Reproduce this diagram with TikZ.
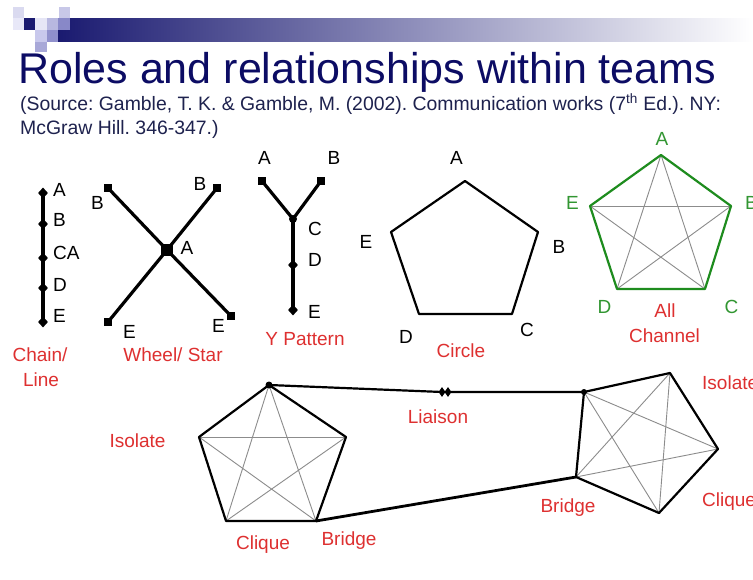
\documentclass[tikz,border=0pt]{standalone}
\usepackage{fontspec}
\setmainfont{Liberation Sans}
\usetikzlibrary{shapes.geometric}
\frenchspacing
\definecolor{titleblue}{RGB}{12,12,100}
\definecolor{subblue}{RGB}{30,34,78}
\definecolor{lblred}{RGB}{222,48,48}
\definecolor{edgegreen}{RGB}{30,140,30}
\definecolor{lblgreen}{RGB}{50,150,50}
\definecolor{diaggray}{RGB}{140,140,140}
\definecolor{navy}{RGB}{26,26,112}
\definecolor{barmid}{RGB}{140,140,185}
\definecolor{sqa}{RGB}{218,218,240}
\definecolor{sqb}{RGB}{232,232,248}
\definecolor{sqc}{RGB}{200,200,232}
\definecolor{sqd}{RGB}{230,230,246}
\definecolor{sqe}{RGB}{184,184,224}
\definecolor{sqf}{RGB}{136,136,200}
\definecolor{sqg}{RGB}{200,200,236}
\definecolor{sqh}{RGB}{144,144,204}
\definecolor{sqi}{RGB}{168,168,216}
\tikzset{
  lbl/.style={font=\fontsize{19}{23}\selectfont, inner sep=0pt, anchor=base},
  rlbl/.style={lbl, text=lblred},
  glbl/.style={lbl, text=lblgreen},
  dmark/.style={diamond, fill=black, inner sep=0pt, minimum width=10pt, minimum height=11pt},
  smark/.style={rectangle, fill=black, inner sep=0pt, minimum size=8pt},
  dotmark/.style={circle, fill=black, inner sep=0pt, minimum size=6pt},
  vtx/.style={inner sep=0pt, minimum size=0pt},
  thickline/.style={line width=3.2pt},
  poly/.style={line width=2.2pt, line join=round},
  diag/.style={line width=0.9pt, draw=diaggray},
}
\begin{document}
\begin{tikzpicture}[x=1pt,y=-1pt]
\useasboundingbox (0,0) rectangle (753,580);
\fill[white] (0,0) rectangle (753,580);
% header bar and squares
\shade[left color=navy, right color=white, middle color=barmid] (58,19) rectangle (753,42);
\fill[sqa] (13,7) rectangle (24,18);
\fill[sqb] (13,18) rectangle (24,30);
\fill[sqc] (59,7) rectangle (70,18);
\fill[navy] (24,18) rectangle (35,30);
\fill[sqd] (35,18) rectangle (47,30);
\fill[sqe] (47,18) rectangle (58,30);
\fill[sqf] (58,18) rectangle (70,30);
\fill[sqg] (35,30) rectangle (47,42);
\fill[sqh] (47,30) rectangle (58,42);
\fill[sqi] (35,42) rectangle (47,52);
% title
\node[anchor=base west, inner sep=0pt, text=titleblue, font=\fontsize{43}{49}\selectfont] (title) at (18,84) {Roles and relationships within teams};
\node[anchor=base west, inner sep=0pt, text=subblue, font=\fontsize{19.4}{23}\selectfont] (src1) at (20,111) {(Source: Gamble, T. K. \& Gamble, M. (2002). Communication works (7\textsuperscript{th} Ed.). NY:};
\node[anchor=base west, inner sep=0pt, text=subblue, font=\fontsize{19.4}{23}\selectfont] (src2) at (20,135) {McGraw Hill. 346-347.)};

% Chain
\node[dmark] (ca) at (43,193) {};
\node[dmark] (cb) at (43,224) {};
\node[dmark] (cc) at (43,258) {};
\node[dmark] (cd) at (43,288) {};
\node[dmark] (ce) at (43,322) {};
\draw[thickline] (ca.center) -- (ce.center);
\node[lbl, anchor=base west] (lca) at (53,197) {A};
\node[lbl, anchor=base west] (lcb) at (53,227) {B};
\node[lbl, anchor=base west] (lcc) at (53,260) {CA};
\node[lbl, anchor=base west] (lcd) at (53,292) {D};
\node[lbl, anchor=base west] (lce) at (53,323) {E};
\node[rlbl] (chain1) at (40,362) {Chain/};
\node[rlbl] (chain2) at (41,386) {Line};

% Wheel
\node[smark, minimum size=12pt] (wa) at (167,250) {};
\node[smark] (wb1) at (108,188) {};
\node[smark] (wb2) at (217,188) {};
\node[smark] (we1) at (108,322) {};
\node[smark] (we2) at (231,316) {};
\draw[thickline] (wb1.center) -- (wa.center) -- (we2.center);
\draw[thickline] (wb2.center) -- (wa.center) -- (we1.center);
\node[lbl] (lwb1) at (97.5,210) {B};
\node[lbl] (lwb2) at (200,191) {B};
\node[lbl] (lwa) at (187,255) {A};
\node[lbl] (lwe1) at (129.5,338) {E};
\node[lbl] (lwe2) at (218.5,333) {E};
\node[rlbl] (wheel) at (173,362) {Wheel/ Star};

% Y pattern
\node[smark] (ya) at (262,181) {};
\node[smark] (yb) at (321,181) {};
\node[dotmark, minimum size=8pt] (yc) at (293,219) {};
\node[dmark] (yd) at (293,265) {};
\node[dmark] (ye) at (293,310) {};
\draw[thickline, line join=round] (ya.center) -- (yc.center) -- (yb.center);
\draw[thickline] (yc.center) -- (ye.center);
\node[lbl] (lya) at (264.5,165) {A};
\node[lbl] (lyb) at (334,165) {B};
\node[lbl] (lyc) at (315,236) {C};
\node[lbl] (lyd) at (315,267) {D};
\node[lbl] (lye) at (314.5,319) {E};
\node[rlbl] (ypat) at (305,345) {Y Pattern};

% Circle
\node[vtx] (pa) at (465,181) {};
\node[vtx] (pb) at (538,232) {};
\node[vtx] (pc) at (512,314) {};
\node[vtx] (pd) at (419,314) {};
\node[vtx] (pe) at (391,232) {};
\draw[poly] (pa.center) -- (pb.center) -- (pc.center) -- (pd.center) -- (pe.center) -- cycle;
\node[lbl] (lpa) at (456.5,165) {A};
\node[lbl] (lpb) at (559,254) {B};
\node[lbl] (lpc) at (527,337) {C};
\node[lbl] (lpd) at (406,344) {D};
\node[lbl] (lpe) at (366,249) {E};
\node[rlbl] (circ) at (461,357) {Circle};

% All channel
\node[vtx] (ga) at (661,155) {};
\node[vtx] (gb) at (731,206) {};
\node[vtx] (gc) at (705,289) {};
\node[vtx] (gd) at (617,289) {};
\node[vtx] (ge) at (590,206) {};
\draw[diag] (ga.center) -- (gc.center);
\draw[diag] (ga.center) -- (gd.center);
\draw[diag] (gb.center) -- (gd.center);
\draw[diag] (gb.center) -- (ge.center);
\draw[diag] (gc.center) -- (ge.center);
\draw[poly, draw=edgegreen] (ga.center) -- (gb.center) -- (gc.center) -- (gd.center) -- (ge.center) -- cycle;
\node[glbl] (lga) at (662,146) {A};
\node[glbl, anchor=base west] (lgb) at (745,210) {B};
\node[glbl] (lgc) at (731.5,313) {C};
\node[glbl] (lgd) at (604.5,313) {D};
\node[glbl] (lge) at (572.5,210) {E};
\node[rlbl] (all1) at (665,318) {All};
\node[rlbl] (all2) at (664.5,342) {Channel};

% Bottom left clique
\node[vtx] (lt) at (269,385) {};
\node[vtx] (lur) at (346,437) {};
\node[vtx] (llr) at (316,521) {};
\node[vtx] (lll) at (226,521) {};
\node[vtx] (lul) at (199,437) {};
\draw[diag] (lt.center) -- (llr.center);
\draw[diag] (lt.center) -- (lll.center);
\draw[diag] (lur.center) -- (lll.center);
\draw[diag] (lur.center) -- (lul.center);
\draw[diag] (llr.center) -- (lul.center);
\draw[poly] (lt.center) -- (lur.center) -- (llr.center) -- (lll.center) -- (lul.center) -- cycle;

% Bottom right clique
\node[vtx] (r1) at (584,392) {};
\node[vtx] (r2) at (670,373) {};
\node[vtx] (r3) at (718,449) {};
\node[vtx] (r4) at (659,513) {};
\node[vtx] (r5) at (576,477) {};
\draw[diag] (r1.center) -- (r3.center);
\draw[diag] (r1.center) -- (r4.center);
\draw[diag] (r2.center) -- (r4.center);
\draw[diag] (r2.center) -- (r5.center);
\draw[diag] (r3.center) -- (r5.center);
\draw[poly] (r1.center) -- (r2.center) -- (r3.center) -- (r4.center) -- (r5.center) -- cycle;

% Liaison and bridge
\node[dmark, minimum width=7pt, minimum height=10pt] (li1) at (442,392) {};
\node[dmark, minimum width=7pt, minimum height=10pt] (li2) at (448,392) {};
\draw[poly] (lt.center) -- (li1.center) -- (r1.center);
\draw[line width=2.8pt] (llr.center) -- (r5.center);
\node[dotmark, minimum size=7pt] (ltd) at (269,385) {};
\node[dotmark] (r1d) at (584,392) {};

\node[rlbl] (iso1) at (137.5,447) {Isolate};
\node[rlbl] (cl1) at (263,549) {Clique};
\node[rlbl] (br1) at (349,545) {Bridge};
\node[rlbl] (lia) at (438,423) {Liaison};
\node[rlbl] (br2) at (568,512) {Bridge};
\node[rlbl, anchor=base west] (iso2) at (702,389) {Isolate};
\node[rlbl, anchor=base west] (cl2) at (702,506) {Clique};
\end{tikzpicture}
\end{document}
